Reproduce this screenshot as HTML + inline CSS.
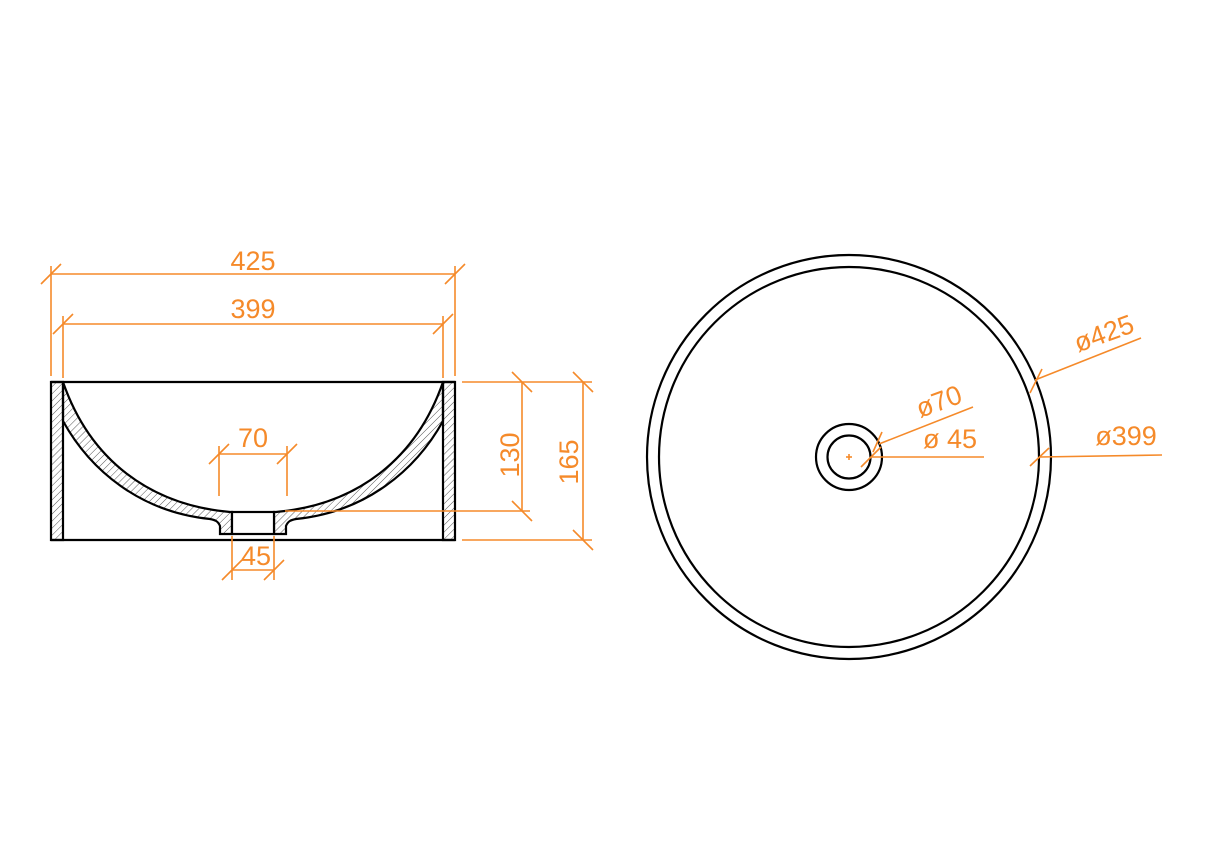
<!DOCTYPE html>
<html><head><meta charset="utf-8"><style>
html,body{margin:0;padding:0;background:#fff;}
svg{display:block;}
text{font-family:"Liberation Sans",sans-serif;fill:#f58a2a;font-size:27px;}
</style></head><body>
<svg width="1220" height="856" viewBox="0 0 1220 856" xmlns="http://www.w3.org/2000/svg">
<defs>
<pattern id="h" width="5" height="5" patternUnits="userSpaceOnUse" patternTransform="rotate(45)">
<line x1="0" y1="0" x2="0" y2="5" stroke="#555" stroke-width="1"/>
</pattern>
</defs>
<rect width="1220" height="856" fill="#fff"/>
<g stroke="#000" stroke-width="2.2" fill="none">
 <path d="M51,382 L63,382 L63,540 L51,540 Z" fill="url(#h)"/>
 <path d="M443,382 L455,382 L455,540 L443,540 Z" fill="url(#h)"/>
 <path d="M63,382 C90,460 150,505 230,512 L232,512 L232,534 L220,534 L220,526 C218,521 215,520 210,519 C140,512 90,470 63,421 Z" fill="url(#h)"/>
 <path d="M443,382 C416,460 356,505 276,512 L274,512 L274,534 L286,534 L286,526 C288,521 291,520 296,519 C366,512 416,470 443,421 Z" fill="url(#h)"/>
 <rect x="232" y="512" width="42" height="22" fill="#fff"/>
 <line x1="51" y1="382" x2="455" y2="382"/>
 <line x1="51" y1="540" x2="455" y2="540"/>
</g>
<g stroke="#f58a2a" stroke-width="1.6" fill="none">
 <line x1="51" y1="266" x2="51" y2="376"/><line x1="455" y1="266" x2="455" y2="376"/>
 <line x1="51" y1="274" x2="455" y2="274"/>
 <line x1="41" y1="284" x2="61" y2="264"/><line x1="445" y1="284" x2="465" y2="264"/>
 <line x1="63" y1="316" x2="63" y2="378"/><line x1="443" y1="316" x2="443" y2="378"/>
 <line x1="63" y1="324" x2="443" y2="324"/>
 <line x1="53" y1="334" x2="73" y2="314"/><line x1="433" y1="334" x2="453" y2="314"/>
 <line x1="462" y1="382" x2="592" y2="382"/>
 <line x1="462" y1="540" x2="592" y2="540"/>
 <line x1="285" y1="511" x2="530" y2="511"/>
 <line x1="522" y1="382" x2="522" y2="511"/>
 <line x1="512" y1="372" x2="532" y2="392"/><line x1="512" y1="501" x2="532" y2="521"/>
 <line x1="583" y1="382" x2="583" y2="540"/>
 <line x1="573" y1="372" x2="593" y2="392"/><line x1="573" y1="530" x2="593" y2="550"/>
 <line x1="219" y1="446" x2="219" y2="496"/><line x1="287" y1="446" x2="287" y2="496"/>
 <line x1="219" y1="454" x2="287" y2="454"/>
 <line x1="209" y1="464" x2="229" y2="444"/><line x1="277" y1="464" x2="297" y2="444"/>
 <line x1="232" y1="536" x2="232" y2="580"/><line x1="274" y1="536" x2="274" y2="580"/>
 <line x1="232" y1="570" x2="274" y2="570"/>
 <line x1="222" y1="580" x2="242" y2="560"/><line x1="264" y1="580" x2="284" y2="560"/>
</g>
<text x="253" y="270" text-anchor="middle">425</text>
<text x="253" y="318" text-anchor="middle">399</text>
<text x="253" y="447" text-anchor="middle">70</text>
<text x="256" y="565" text-anchor="middle">45</text>
<text transform="translate(519,455) rotate(-90)" text-anchor="middle">130</text>
<text transform="translate(578,462) rotate(-90)" text-anchor="middle">165</text>
<g stroke="#000" stroke-width="2.2" fill="none">
 <circle cx="849" cy="457" r="202"/>
 <circle cx="849" cy="457" r="190"/>
 <circle cx="849" cy="457" r="33"/>
 <circle cx="849" cy="457" r="21.5"/>
</g>
<g stroke="#f58a2a" stroke-width="1.6" fill="none">
 <line x1="846" y1="457" x2="852" y2="457"/><line x1="849" y1="454" x2="849" y2="460"/>
 <line x1="1035" y1="380" x2="1141" y2="338"/>
 <line x1="1030" y1="393" x2="1042" y2="369"/>
 <line x1="879" y1="444" x2="973" y2="407"/>
 <line x1="882" y1="432" x2="873" y2="452"/>
 <line x1="871" y1="457" x2="984" y2="457"/>
 <line x1="861" y1="467" x2="881" y2="447"/>
 <line x1="1040" y1="457" x2="1162" y2="455"/>
 <line x1="1030" y1="466" x2="1049" y2="448"/>
</g>
<text transform="translate(1107,342) rotate(-20)" text-anchor="middle">ø425</text>
<text transform="translate(942,410) rotate(-20)" text-anchor="middle">ø70</text>
<text x="950" y="448" text-anchor="middle">ø 45</text>
<text x="1126" y="445" text-anchor="middle">ø399</text>
</svg>
</body></html>
